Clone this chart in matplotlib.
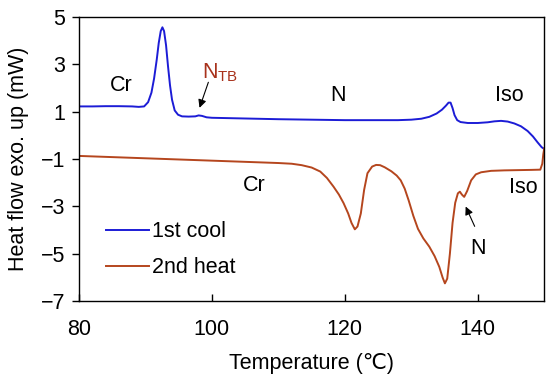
import matplotlib
matplotlib.use('Agg')
import matplotlib.pyplot as plt

plt.rcParams['font.family'] = ['Liberation Sans', 'DejaVu Sans']
plt.rcParams['mathtext.default'] = 'regular'
plt.rcParams['font.size'] = 15.5

# 1st cool curve (temperature, heat flow)
cool_T = [80, 82, 84, 86, 88, 89, 89.8, 90.4, 90.9, 91.3, 91.7, 92.0, 92.3, 92.55,
          92.8, 93.1, 93.4, 93.7, 94.0, 94.4, 94.9, 95.5, 96.5, 97.5, 98.0, 98.5,
          99.2, 100, 105, 110, 115, 120, 125, 128, 130, 131.5, 132.7, 133.8, 134.6,
          135.2, 135.6, 135.9, 136.2, 136.5, 136.9, 137.4, 138.5, 140, 141.5, 142.5,
          143.5, 144.5, 145.5, 146.5, 147.5, 148.3, 149, 149.6, 150]
cool_Q = [1.22, 1.22, 1.23, 1.23, 1.22, 1.20, 1.22, 1.4, 1.8, 2.4, 3.2, 3.9, 4.4, 4.56,
          4.4, 3.8, 2.9, 2.1, 1.5, 1.05, 0.87, 0.8, 0.79, 0.8, 0.84, 0.82,
          0.76, 0.74, 0.71, 0.68, 0.66, 0.64, 0.64, 0.64, 0.66, 0.7, 0.78, 0.92, 1.08,
          1.25, 1.38, 1.38, 1.15, 0.85, 0.64, 0.56, 0.52, 0.52, 0.55, 0.59,
          0.61, 0.58, 0.5, 0.38, 0.18, -0.05, -0.3, -0.5, -0.58]

# 2nd heat curve
heat_T = [80, 85, 90, 95, 100, 105, 110, 112, 113.5, 115, 116.3, 117.3, 118.3, 119.1,
          119.8, 120.5, 121.0, 121.5, 121.9, 122.4, 122.9, 123.4, 124.1, 124.7, 125.3,
          126.0, 127.0, 127.8, 128.4, 129.0, 129.6, 130.3, 131.0, 131.8, 132.7, 133.5,
          134.2, 134.7, 135.05, 135.4, 135.8, 136.2, 136.6, 137.0, 137.3, 137.6, 137.95,
          138.4, 139.0, 139.7, 140.5, 142, 144, 146, 148, 149.4, 149.7, 149.85, 150]
heat_Q = [-0.87, -0.92, -0.97, -1.02, -1.07, -1.12, -1.17, -1.2, -1.26, -1.36, -1.53,
          -1.8, -2.17, -2.5, -2.86, -3.3, -3.7, -3.97, -3.85, -3.3, -2.3, -1.6, -1.32,
          -1.25, -1.26, -1.35, -1.52, -1.7, -1.9, -2.25, -2.75, -3.4, -3.95, -4.35, -4.7,
          -5.1, -5.55, -6.0, -6.25, -6.05, -5.0, -3.7, -2.85, -2.45, -2.38, -2.5, -2.6,
          -2.35, -1.9, -1.65, -1.56, -1.5, -1.48, -1.47, -1.46, -1.45, -1.2, -0.8, -0.55]

x_ticks = [80, 100, 120, 140]
y_ticks = [-7, -5, -3, -1, 1, 3, 5]

blue = '#1c1cd6'
brown = '#b5461e'

fig = plt.figure(figsize=(5.5, 3.75), dpi=100)
ax = fig.add_axes([0.1436, 0.197, 0.846, 0.758])

ax.plot(cool_T, cool_Q, color=blue, lw=1.4, label='1st cool')
ax.plot(heat_T, heat_Q, color=brown, lw=1.4, label='2nd heat')

ax.set_xlim(80, 150)
ax.set_ylim(-7, 5)
ax.set_xticks(x_ticks)
ax.set_yticks(y_ticks)
ax.tick_params(axis='x', direction='in', length=5, width=1, pad=13)
ax.tick_params(axis='y', direction='out', length=5, width=1, pad=5)
for s in ax.spines.values():
    s.set_linewidth(1)

ax.set_xlabel('Temperature (\u2103)', labelpad=9)
ax.set_ylabel('Heat flow exo. up (mW)', labelpad=8)

# phase labels
ax.text(86.3, 2.1, 'Cr', ha='center', va='center')
ax.text(98.5, 2.42, r'N$_{TB}$', color='#a8321c', ha='left', va='baseline')
ax.annotate('', xy=(98.0, 1.05), xytext=(99.6, 2.35),
            arrowprops=dict(arrowstyle='-|>', color='black', lw=0.8, mutation_scale=12))
ax.text(119.0, 1.7, 'N', ha='center', va='center')
ax.text(144.8, 1.7, 'Iso', ha='center', va='center')
ax.text(106.4, -2.1, 'Cr', ha='center', va='center')
ax.text(146.8, -2.2, 'Iso', ha='center', va='center')
ax.text(140.1, -4.77, 'N', ha='center', va='center')
ax.annotate('', xy=(138.0, -2.9), xytext=(139.7, -3.95),
            arrowprops=dict(arrowstyle='-|>', color='black', lw=0.8, mutation_scale=12))

ax.legend(loc='lower left', bbox_to_anchor=(0.058, 0.08), frameon=False,
          handlelength=2.0, handletextpad=0.15, labelspacing=0.7,
          borderpad=0, borderaxespad=0)

fig.savefig('out.png', dpi=100)
